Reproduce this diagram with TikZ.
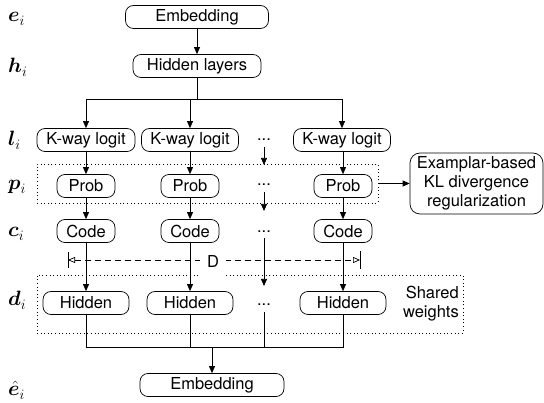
\documentclass[tikz,border=0pt]{standalone}
\usepackage{amsmath}
\usepackage{bm}
\usepackage{fontspec}
\setmainfont{TeX Gyre Heros}
\usetikzlibrary{arrows.meta}
\begin{document}
\begin{tikzpicture}[x=1pt,y=-1pt,
  box/.style={draw, rounded corners=8pt, line width=0.7pt, minimum height=23pt, inner sep=0pt, font=\fontsize{16.5}{19}\selectfont},
  arr/.style={-{Triangle[length=7pt,width=6pt]}, line width=0.7pt},
  ln/.style={line width=0.7pt},
  dotbox/.style={draw, dash pattern=on 1pt off 2.6pt, line width=0.7pt, inner sep=0pt},
  lab/.style={font=\fontsize{20}{22}\selectfont, anchor=base west, inner sep=0pt},
  dotsn/.style={inner sep=0pt, font=\fontsize{16.5}{19}\selectfont},
  txt/.style={font=\fontsize{16.5}{19}\selectfont}
]
\useasboundingbox (0,0) rectangle (544,403);
% dotted boxes
\node[dotbox, minimum width=341pt, minimum height=39pt] (pbox) at (207.5,183.5) {};
\node[dotbox, minimum width=426pt, minimum height=58pt] (hbox) at (250,304) {};
% labels
\node[lab] (Le) at (8,22) {$\bm{e}_i$};
\node[lab] (Lh) at (8,73) {$\bm{h}_i$};
\node[lab] (Ll) at (8,146) {$\bm{l}_i$};
\node[lab] (Lp) at (8,190) {$\bm{p}_i$};
\node[lab] (Lc) at (8,237) {$\bm{c}_i$};
\node[lab] (Ld) at (8,306) {$\bm{d}_i$};
\node[lab] (Lhe) at (8,396) {$\hat{\bm{e}}_i$};
% boxes
\node[box, minimum width=143pt] (emb) at (197,17) {Embedding};
\node[box, minimum width=128pt] (hl) at (197,66) {Hidden layers};
\node[box, minimum width=98pt] (l1) at (86,140) {K-way logit};
\node[box, minimum width=97pt] (l2) at (190,140) {K-way logit};
\node[box, minimum width=97pt] (l3) at (342,140) {K-way logit};
\node[box, minimum width=58pt] (p1) at (86,186) {Prob};
\node[box, minimum width=58pt] (p2) at (190,186) {Prob};
\node[box, minimum width=58pt] (p3) at (343,186) {Prob};
\node[box, minimum width=58pt] (c1) at (86,231) {Code};
\node[box, minimum width=58pt] (c2) at (190,231) {Code};
\node[box, minimum width=58pt] (c3) at (343,231) {Code};
\node[box, minimum width=86pt] (h1) at (86,303) {Hidden};
\node[box, minimum width=86pt] (h2) at (190,303) {Hidden};
\node[box, minimum width=86pt] (h3) at (343,303) {Hidden};
\node[box, minimum width=144pt] (emb2) at (212,385) {Embedding};
\node[box, minimum width=133pt, minimum height=61pt, rounded corners=10pt, align=center] (kl) at (476.5,183.5) {Examplar-based\\KL divergence\\regularization};
\node[txt, align=right, anchor=east, inner sep=0pt] (sw) at (459,304) {Shared\\weights};
% middle column dots
\node[dotsn] (d1) at (264,140) {...};
\node[dotsn] (d2) at (264,185) {...};
\node[dotsn] (d3) at (264,232) {...};
\node[dotsn] (d4) at (264,305) {...};
% top split
\coordinate (s) at (197,99);
\draw[ln] (hl.south) -- (s);
\draw[arr] (emb) -- (hl);
\draw[arr] (s) -| (l1.north);
\draw[arr] (s) -| (l2.north);
\draw[arr] (s) -| (l3.north);
% columns
\foreach \i in {1,2,3}{
  \draw[arr] (l\i.south -| p\i) -- (p\i.north);
  \draw[arr] (p\i) -- (c\i);
  \draw[arr] (c\i) -- (h\i);
}
\draw[arr, shorten <=7pt, shorten >=20pt] (d1.center) -- (d2.center);
\draw[arr, shorten <=7pt, shorten >=21pt] (d2.center) -- (d3.center);
\draw[arr, shorten <=6pt, shorten >=19pt] (d3.center) -- (d4.center);
% bottom merge
\coordinate (m) at (212,347);
\draw[ln] (h1.south) |- (m);
\draw[ln] (h3.south) |- (m);
\draw[ln] (h2.south) -- (h2.south |- m);
\draw[ln, shorten <=7pt] (d4.center) -- (d4.center |- m);
\draw[arr] (m) -- (emb2);
% KL arrow
\draw[arr] (pbox.east |- kl.west) -- (kl.west);
% D dimension
\coordinate (dl) at (68,260);
\coordinate (dr) at (360,260);
\draw[ln, dash pattern=on 6pt off 4pt, {Triangle[open,length=7pt,width=6pt]}-{Triangle[open,length=7pt,width=6pt]}] (dl) -- (dr);
\draw[ln] ([yshift=-8pt]dl) -- ([yshift=8pt]dl);
\draw[ln] ([yshift=-9pt]dr) -- ([yshift=9pt]dr);
\node[txt, fill=white, minimum height=30pt, inner xsep=7pt, inner ysep=0pt] (D) at (213,261) {D};
\end{tikzpicture}
\end{document}
